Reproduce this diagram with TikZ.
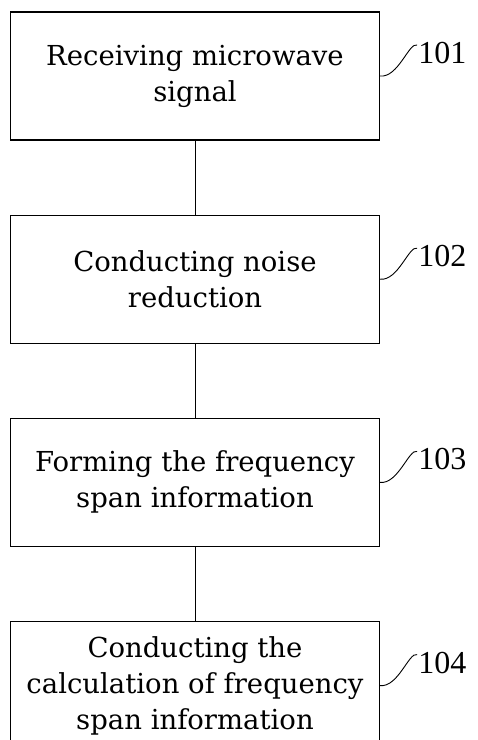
\documentclass[tikz,border=0pt]{standalone}
\usepackage{fontspec}
\setmainfont{DejaVu Serif}
\newfontfamily\numfont{Liberation Serif}
\usetikzlibrary{positioning}
\begin{document}
\begin{tikzpicture}[x=1pt,y=1pt,node distance=74pt,
  stepbox/.style={draw, line width=1.2pt, minimum width=369pt, minimum height=128pt,
    align=center, font=\fontsize{27.5}{36}\selectfont},
  reflabel/.style={font=\numfont\fontsize{32}{32}\selectfont, inner sep=1pt},
  squiggle/.style={line width=0.9pt}]
\useasboundingbox (0,0) rectangle (478,-740);
\clip (0,0) rectangle (478,-740);
% the four steps
\node[stepbox] (s101) at (195,-76) {Receiving microwave\\signal};
\node[stepbox, below=of s101] (s102) {Conducting noise\\reduction};
\node[stepbox, below=of s102] (s103) {Forming the frequency\\span information};
\node[stepbox, below=of s103] (s104) {Conducting the\\calculation of frequency\\span information};
\draw[line width=1pt] (s101) -- (s102);
\draw[line width=1pt] (s102) -- (s103);
\draw[line width=1pt] (s103) -- (s104);
% reference numerals
\foreach \n in {101,102,103,104} {
  \node[reflabel, right=37pt of s\n.east, yshift=23pt] (l\n) {\n};
  \draw[squiggle] (s\n.east) .. controls +(18,-2) and +(-8,3) .. ([yshift=8pt]l\n.west);
}
\end{tikzpicture}
\end{document}
